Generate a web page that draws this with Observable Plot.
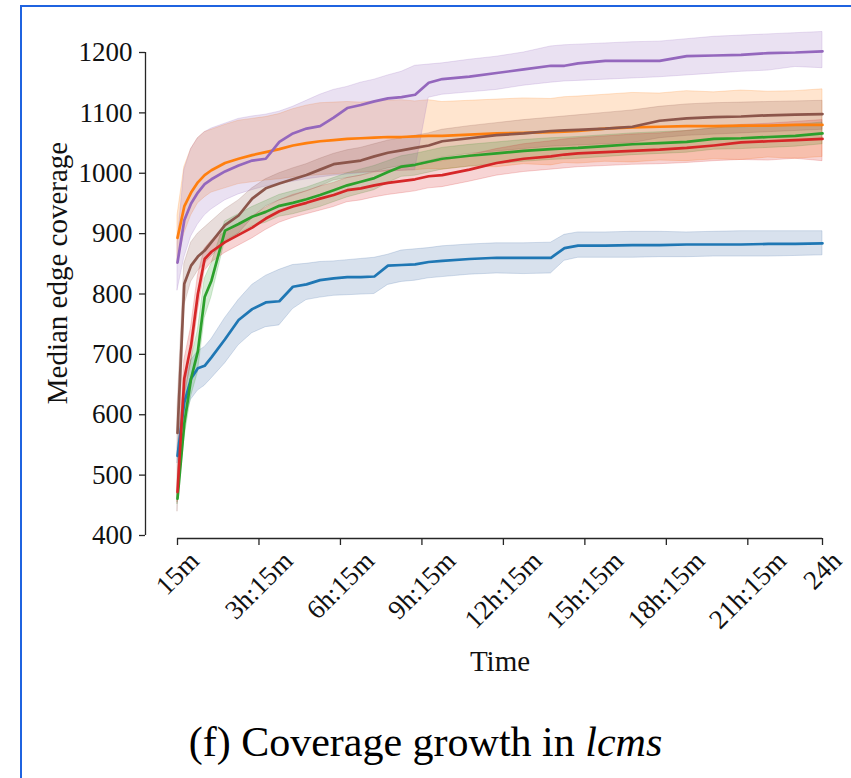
<!DOCTYPE html>
<html>
<head>
<meta charset="utf-8">
<script src="https://cdn.jsdelivr.net/npm/d3@7"></script>
<script src="https://cdn.jsdelivr.net/npm/@observablehq/plot@0.6"></script>
<style>
  html, body { margin: 0; padding: 0; background: #fff; }
  #page { position: relative; width: 851px; height: 778px; overflow: hidden; background: #fff; }
  #frame { position: absolute; left: 20px; top: 5px; right: -10px; bottom: -10px;
           border-left: 2px solid #1f63e0; border-top: 2px solid #1f63e0; }
  #chart { position: absolute; left: 0; top: 0; }
  #caption { position: absolute; left: 0; top: 721px; width: 851px; text-align: center;
             font-family: "Liberation Serif", "Times New Roman", serif; font-size: 42px;
             line-height: 42px; color: #000; white-space: nowrap; }
</style>
</head>
<body>
<div id="page">
  <div id="frame"></div>
  <div id="chart"></div>
  <div id="caption">(f) Coverage growth in <i>lcms</i></div>
</div>
<script>
// ---- data (time in hours) ----
const times = [0.25,0.5,0.75,1,1.25,1.5,2,2.5,3,3.5,4,4.5,5,5.5,6,6.5,7,7.5,8,8.5,9,9.5,10,11,12,13,14,14.5,15,16,17,18,19,20,21,22,23,24];

const seriesNames = ["blue", "orange", "green", "red", "purple", "brown"];
const seriesColors = ["#1f77b4", "#ff7f0e", "#2ca02c", "#d62728", "#9467bd", "#8c564b"];
const bandColors   = ["#3d6aa6", "#ff7f0e", "#2ca02c", "#d62728", "#9467bd", "#8c564b"];

const blueMed = [532,620,660,677,681,695,725,757,775,786,788,812,816,823,826,828,828,829,847,848,849,853,855,858,860,860,860,876,880,880,881,881,882,882,882,883,883,884];
const blueHi  = [545,650,690,705,712,725,760,790,815,830,840,848,850,853,854,856,858,860,865,872,874,876,879,882,884,884,885,898,902,902,903,903,902,903,904,904,904,904];
const blueLo  = [520,590,625,640,648,660,685,715,735,745,748,775,790,794,797,798,799,800,815,820,822,826,828,832,834,833,834,855,860,860,860,861,861,862,862,862,863,864];

const orangeMed = [893,945,968,985,997,1005,1017,1024,1030,1035,1040,1046,1050,1053,1055,1057,1058,1059,1060,1060,1061,1062,1062,1064,1066,1067,1068,1069,1070,1074,1076,1077,1078,1078,1079,1079,1080,1080];
const orangeHi  = [930,1010,1040,1058,1068,1072,1080,1087,1090,1093,1098,1106,1112,1116,1117,1118,1117,1119,1120,1121,1119,1121,1118,1120,1122,1124,1123,1126,1127,1130,1133,1132,1136,1134,1137,1135,1136,1139];
const orangeLo  = [850,900,930,950,960,968,975,982,985,988,990,993,995,997,998,1000,1001,1002,1003,1004,1005,1007,1006,1011,1010,1015,1013,1017,1016,1019,1018,1021,1020,1023,1022,1026,1024,1027];

const greenMed = [461,585,660,705,795,822,905,916,928,936,946,951,957,964,972,980,986,992,1002,1011,1014,1019,1024,1029,1033,1037,1040,1041,1042,1045,1048,1050,1052,1057,1058,1060,1062,1066];
const greenHi  = [470,625,690,740,825,850,920,932,944,954,964,970,976,984,992,1000,1006,1012,1020,1028,1032,1037,1042,1047,1051,1055,1058,1059,1060,1063,1066,1068,1070,1075,1076,1078,1080,1084];
const greenLo  = [452,560,630,670,760,795,888,900,912,918,928,932,938,944,952,960,966,972,984,994,996,1001,1006,1011,1015,1019,1022,1023,1024,1027,1030,1032,1034,1039,1040,1042,1044,1048];

const redMed = [472,660,715,800,858,870,886,898,910,925,937,945,951,958,964,972,975,980,984,987,990,995,997,1006,1017,1024,1028,1031,1033,1035,1037,1039,1042,1046,1051,1053,1055,1057];
const redHi  = [490,690,745,830,875,888,902,915,928,943,955,964,970,978,984,992,996,1001,1005,1008,1012,1017,1020,1030,1040,1048,1053,1056,1058,1061,1064,1066,1070,1074,1080,1082,1085,1088];
const redLo  = [455,630,685,770,838,852,868,880,892,906,918,926,932,938,944,952,955,960,964,967,970,975,977,986,996,1002,1006,1008,1010,1012,1014,1015,1017,1020,1022,1021,1024,1020];

const purpleMed = [852,922,950,968,982,990,1003,1013,1021,1024,1052,1066,1074,1078,1092,1108,1113,1119,1124,1126,1130,1150,1156,1160,1166,1172,1178,1178,1182,1186,1186,1186,1194,1195,1196,1199,1200,1202];
const purpleHi  = [885,1005,1040,1058,1068,1074,1082,1090,1094,1097,1102,1110,1120,1130,1138,1143,1150,1155,1162,1168,1178,1180,1182,1188,1193,1200,1210,1212,1213,1215,1217,1218,1222,1226,1228,1230,1232,1234];
const purpleLo  = [806,860,895,915,930,940,955,965,972,978,982,986,990,993,996,998,1000,1002,1003,1004,1005,1125,1130,1134,1138,1145,1150,1152,1153,1155,1157,1159,1162,1165,1168,1170,1176,1174];

const brownMed = [570,817,847,862,872,886,914,930,958,975,983,990,997,1006,1015,1018,1021,1028,1034,1038,1042,1046,1053,1058,1063,1066,1070,1071,1072,1074,1077,1087,1091,1093,1094,1096,1097,1098];
const brownHi  = [610,850,885,900,910,920,940,955,975,990,1000,1008,1015,1024,1032,1038,1042,1048,1054,1058,1062,1066,1072,1078,1083,1088,1092,1094,1096,1100,1104,1110,1114,1116,1117,1118,1119,1120];
const brownLo  = [440,780,820,838,850,862,885,900,925,945,955,962,970,978,988,992,996,1002,1008,1012,1016,1020,1026,1032,1036,1040,1044,1045,1046,1048,1050,1058,1062,1064,1066,1068,1070,1072];

const yTicks = [400, 500, 600, 700, 800, 900, 1000, 1100, 1200];
const xTickValues = [0.25, 3.25, 6.25, 9.25, 12.25, 15.25, 18.25, 21.25, 24];
const xTickLabels = ["15m", "3h:15m", "6h:15m", "9h:15m", "12h:15m", "15h:15m", "18h:15m", "21h:15m", "24h"];
const yLabel = "Median edge coverage";
const xLabel = "Time";

// ---- build table ----
const seriesData = [
  [blueMed, blueLo, blueHi],
  [orangeMed, orangeLo, orangeHi],
  [greenMed, greenLo, greenHi],
  [redMed, redLo, redHi],
  [purpleMed, purpleLo, purpleHi],
  [brownMed, brownLo, brownHi]
];
const rows = seriesData.map(([med, lo, hi], s) =>
  times.map((t, i) => ({series: seriesNames[s], t, med: med[i], lo: lo[i], hi: hi[i]})));

const bandMarks = rows.map((r, s) => Plot.areaY(r, {
  x: "t", y1: "lo", y2: "hi", fill: bandColors[s], fillOpacity: 0.2,
  stroke: bandColors[s], strokeOpacity: 0.2, strokeWidth: 1
}));
const lineMarks = rows.map((r, s) => Plot.lineY(r, {
  x: "t", y: "med", stroke: seriesColors[s], strokeWidth: 2.7
}));

const fmt = new Map(xTickValues.map((v, i) => [v, xTickLabels[i]]));
const H = 700;
const FS = 27;
const LFS = 29;
const axisColor = "#262626";

const plot = Plot.plot({
  width: 851,
  height: H,
  marginLeft: 177,
  marginRight: 29,
  marginTop: 52,
  marginBottom: H - 535,
  x: {domain: [times[0], times[times.length - 1]]},
  y: {domain: [yTicks[0], yTicks[yTicks.length - 1]]},
  style: {fontFamily: '"Liberation Serif", "Times New Roman", serif', fontSize: FS + "px", color: axisColor, background: "transparent", overflow: "visible"},
  marks: [
    ...bandMarks,
    ...lineMarks,
    Plot.ruleX([times[0]], {y1: yTicks[0], y2: yTicks[yTicks.length - 1], dx: -32, stroke: axisColor, strokeWidth: 1.3}),
    Plot.ruleY([yTicks[0]], {x1: times[0], x2: times[times.length - 1], dy: 3, stroke: axisColor, strokeWidth: 1.3}),
    Plot.axisY({ticks: yTicks, tickFormat: d => String(d), tickSize: 6, tickPadding: 7, dx: -32, label: null, fontSize: FS, strokeWidth: 1.3, stroke: axisColor, fill: "#111"}),
    Plot.axisX({ticks: xTickValues, tickFormat: d => fmt.get(d), tickSize: 7, tickPadding: 4, dy: 3, tickRotate: -45, label: null, fontSize: FS, strokeWidth: 1.3, stroke: axisColor, fill: "#111"}),
    Plot.text([yLabel], {frameAnchor: "left", textAnchor: "middle", lineAnchor: "middle", rotate: -90, dx: -120, dy: -21, fontSize: LFS, fill: "#111"}),
    Plot.text([xLabel], {frameAnchor: "bottom", textAnchor: "middle", lineAnchor: "bottom", dy: 135, fontSize: LFS, fill: "#111"})
  ]
});

document.getElementById("chart").append(plot);

// center the rotated tick labels under their ticks (matplotlib style)
d3.select(plot).selectAll('g[aria-label="x-axis tick label"] text').each(function () {
  const tr = this.getAttribute("transform") || "";
  const m = /translate\(\s*([-\d.e]+)[,\s]+([-\d.e]+)\s*\)/.exec(tr);
  if (!m) return;
  const x = +m[1], y = +m[2];
  const w = this.getComputedTextLength();
  const h = 0.72 * FS;
  const c = (w + h) / (2 * Math.SQRT2);
  this.setAttribute("transform", `translate(${x},${y + c}) rotate(-45)`);
  this.setAttribute("text-anchor", "middle");
  this.setAttribute("y", "0.32em");
  this.removeAttribute("dy");
});
</script>
</body>
</html>
